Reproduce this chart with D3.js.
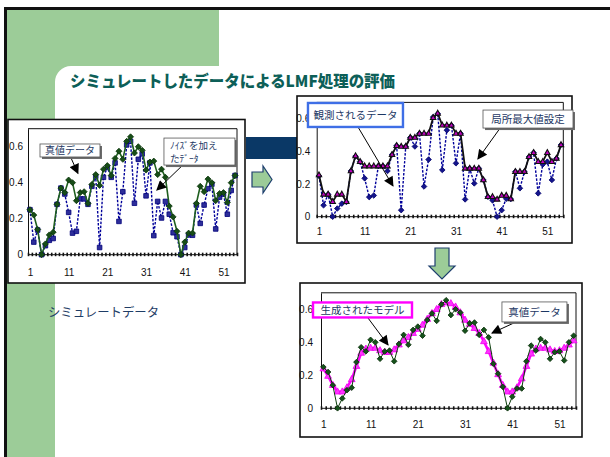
<!DOCTYPE html>
<html lang="ja">
<head>
<meta charset="utf-8">
<title>シミュレートしたデータによるLMF処理の評価</title>
<script src="https://cdn.jsdelivr.net/npm/d3@7"></script>
<style>
  html, body { margin: 0; padding: 0; background: #fff; }
  svg { display: block; }
</style>
</head>
<body>
<svg id="slide" width="610" height="457"></svg>
<script>
// sample index (category axis)
const categories = d3.range(1, 55);
const xTickLabels = [1, 11, 21, 31, 41, 51];
const yTickValues = [0, 0.2, 0.4, 0.6];

// 真値データ
const trueValues = [
  0.25, 0.22, 0.14, 0, 0.06, 0.11, 0.125, 0.28, 0.37, 0.345,
  0.415, 0.40, 0.30, 0.345, 0.35, 0.285, 0.39, 0.445, 0.385, 0.475,
  0.495, 0.44, 0.535, 0.575, 0.53, 0.63, 0.655, 0.565, 0.60, 0.58,
  0.47, 0.515, 0.52, 0.445, 0.475, 0.43, 0.27, 0.21, 0.13, 0,
  0.07, 0.12, 0.12, 0.285, 0.38, 0.35, 0.42, 0.40, 0.30, 0.34,
  0.345, 0.29, 0.40, 0.44
];
// ノイズを加えたデータ (= 観測されるデータ)
const noisyValues = [
  0.25, 0.07, 0.137, 0, 0.05, 0.08, 0.09, 0.28, 0.37, 0.337,
  0.235, 0.12, 0.13, 0.31, 0.31, 0.28, 0.38, 0.435, 0.04, 0.43,
  0.485, 0.43, 0.51, 0.185, 0.35, 0.61, 0.63, 0.286, 0.53, 0.56,
  0.327, 0.51, 0.106, 0.296, 0.204, 0.296, 0.225, 0.122, 0.10, 0,
  0.04, 0.11, 0.108, 0.276, 0.174, 0.276, 0.367, 0.392, 0.143, 0.32,
  0.337, 0.225, 0.357, 0.44
];
// 局所最大値設定
const localMaxValues = [
  0.255, 0.137, 0.137, 0.092, 0.137, 0.137, 0.092, 0.28, 0.372, 0.337,
  0.31, 0.31, 0.31, 0.31, 0.31, 0.31, 0.38, 0.435, 0.43, 0.43,
  0.485, 0.485, 0.51, 0.51, 0.51, 0.606, 0.633, 0.56, 0.56, 0.56,
  0.51, 0.51, 0.296, 0.296, 0.296, 0.296, 0.225, 0.122, 0.122, 0.106,
  0.13, 0.13, 0.108, 0.276, 0.276, 0.276, 0.367, 0.392, 0.337, 0.337,
  0.392, 0.337, 0.357, 0.44
];
// 生成されたモデル
const modelValues = [
  0.24, 0.195, 0.14, 0.10, 0.10, 0.125, 0.175, 0.255, 0.335, 0.36,
  0.365, 0.365, 0.35, 0.34, 0.34, 0.355, 0.385, 0.41, 0.43, 0.455,
  0.48, 0.505, 0.54, 0.575, 0.60, 0.63, 0.64, 0.635, 0.615, 0.58,
  0.535, 0.51, 0.485, 0.455, 0.405, 0.345, 0.275, 0.205, 0.14, 0.10,
  0.10, 0.125, 0.18, 0.255, 0.33, 0.36, 0.365, 0.365, 0.355, 0.345,
  0.35, 0.365, 0.385, 0.41
];

const JP = '"Noto Sans CJK JP", "Noto Sans", sans-serif';
const NUM = '"Liberation Sans", Arial, sans-serif';
const TEXT_NAVY = '#1c3763';
const GREEN = '#9ccc98';

const svg = d3.select('#slide');

// ---- slide decoration ----
svg.append('rect').attr('width', 610).attr('height', 457).attr('fill', '#fff');
svg.append('rect').attr('x', 7).attr('y', 9).attr('width', 212).attr('height', 80).attr('fill', GREEN);
svg.append('rect').attr('x', 7).attr('y', 9).attr('width', 48).attr('height', 448).attr('fill', GREEN);
svg.append('rect').attr('x', 55).attr('y', 66).attr('width', 620).attr('height', 440)
  .attr('rx', 16).attr('fill', '#fff');
svg.append('path').attr('d', 'M5.5,457V8.5H610')
  .attr('fill', 'none').attr('stroke', '#111').attr('stroke-width', 3);

svg.append('text')
  .attr('x', 70).attr('y', 87)
  .attr('font-family', JP).attr('font-weight', 900).attr('font-size', 16)
  .attr('fill', '#0d5f58')
  .attr('textLength', 325).attr('lengthAdjust', 'spacingAndGlyphs')
  .text('シミュレートしたデータによるLMF処理の評価');

svg.append('text')
  .attr('x', 48).attr('y', 317)
  .attr('font-family', JP).attr('font-size', 12.5).attr('fill', '#1f3d66')
  .attr('textLength', 111).attr('lengthAdjust', 'spacingAndGlyphs')
  .text('シミュレートデータ');

// connector band behind the upper-right chart
svg.append('rect').attr('x', 246).attr('y', 137).attr('width', 54).attr('height', 22).attr('fill', '#0a3866');

// block arrows
svg.append('path')
  .attr('d', 'M252,172H263V166L272,179.5L263,193V187H252Z')
  .attr('fill', GREEN).attr('stroke', '#1e3f6e').attr('stroke-width', 1.2);
svg.append('path')
  .attr('d', 'M435,248H449V266H455L442,279L429,266H435Z')
  .attr('fill', GREEN).attr('stroke', '#1e3f6e').attr('stroke-width', 1.2);

// arrowhead for callouts
svg.append('defs').append('marker')
  .attr('id', 'head').attr('viewBox', '0 0 10 10')
  .attr('refX', 9).attr('refY', 5)
  .attr('markerWidth', 11).attr('markerHeight', 10)
  .attr('markerUnits', 'userSpaceOnUse').attr('orient', 'auto')
  .append('path').attr('d', 'M0,0L10,5L0,10Z').attr('fill', '#000');

// ---- marker shapes ----
const shape = {
  diamond: r => `M0,${-r}L${r},0L0,${r}L${-r},0Z`,
  square: r => `M${-r},${-r}h${2 * r}v${2 * r}h${-2 * r}Z`,
  triangle: r => `M0,${-r * 1.15}L${r},${r * 0.65}L${-r},${r * 0.65}Z`
};

function makeChart(cfg) {
  const g = svg.append('g');
  const [bx, by, bw, bh] = cfg.box;
  g.append('rect').attr('x', bx).attr('y', by).attr('width', bw).attr('height', bh)
    .attr('fill', '#fff').attr('stroke', '#111').attr('stroke-width', 1.6);

  const p = cfg.plot;
  const x = d3.scaleLinear().domain([0.5, 54.5]).range([p.left, p.right]);
  const y = d3.scaleLinear().domain([0, 0.7]).range([p.bottom, p.top]);

  // plot frame (top and right)
  g.append('path')
    .attr('d', `M${p.left},${y(0.7)}H${p.right}V${p.bottom}`)
    .attr('fill', 'none').attr('stroke', '#111').attr('stroke-width', 1);

  // value axis
  const ya = g.append('g').attr('transform', `translate(${p.left},0)`)
    .call(d3.axisLeft(y).tickValues(yTickValues).tickSize(0).tickPadding(cfg.yPad)
      .tickFormat(d => d === 0 ? '0' : d3.format('.1f')(d)));
  ya.select('.domain').attr('stroke', '#111');
  ya.selectAll('text').attr('font-family', NUM).attr('font-size', 10).attr('fill', '#111');

  // category axis: tick mark at every category boundary
  const xa = g.append('g').attr('transform', `translate(0,${p.bottom})`)
    .call(d3.axisBottom(x).tickValues(d3.range(0.5, 55, 1)).tickSize(2).tickFormat(''));
  xa.select('.domain').attr('stroke', '#111').attr('d', `M${p.left},0H${p.right}`);
  xa.selectAll('.tick line').attr('y1', -2).attr('y2', 1.5).attr('stroke', '#111').attr('stroke-width', 1.6);

  const xl = g.append('g').attr('transform', `translate(0,${p.bottom})`)
    .call(d3.axisBottom(x).tickValues(xTickLabels).tickSize(0).tickPadding(cfg.xPad));
  xl.select('.domain').remove();
  xl.selectAll('text').attr('font-family', NUM).attr('font-size', 10).attr('fill', '#111');

  return { g, x, y };
}

function drawSeries(c, values, st) {
  const line = d3.line().x((d, i) => c.x(categories[i])).y(d => c.y(d));
  c.g.append('path').datum(values).attr('d', line)
    .attr('fill', 'none').attr('stroke', st.stroke).attr('stroke-width', st.width)
    .attr('stroke-dasharray', st.dash || null).attr('stroke-linejoin', 'round');
  c.g.append('g').selectAll('path').data(values).join('path')
    .attr('transform', (d, i) => `translate(${c.x(categories[i])},${c.y(d)})`)
    .attr('d', st.marker)
    .attr('fill', st.fill).attr('stroke', st.mstroke).attr('stroke-width', st.mwidth || 0.8);
}

function callout(c, cfg) {
  const cx = c.x(cfg.at[0]), cy = c.y(cfg.at[1]);
  const x0 = cx - cfg.w / 2, y0 = cy - cfg.h / 2;
  const fs = cfg.size || 10;
  // arrow first, box drawn over its tail
  c.g.append('line')
    .attr('x1', c.x(cfg.from[0])).attr('y1', c.y(cfg.from[1]))
    .attr('x2', c.x(cfg.to[0])).attr('y2', c.y(cfg.to[1]))
    .attr('stroke', '#000').attr('stroke-width', 1).attr('marker-end', 'url(#head)');
  if (cfg.border) {
    c.g.append('rect').attr('x', x0).attr('y', y0).attr('width', cfg.w).attr('height', cfg.h)
      .attr('fill', '#fff').attr('stroke', cfg.border).attr('stroke-width', 2.4);
  } else {
    c.g.append('rect').attr('x', x0 + 2).attr('y', y0 + 2).attr('width', cfg.w).attr('height', cfg.h)
      .attr('fill', '#6b6b6b');
    c.g.append('rect').attr('x', x0).attr('y', y0).attr('width', cfg.w).attr('height', cfg.h)
      .attr('fill', '#fff').attr('stroke', '#555').attr('stroke-width', 0.8);
  }
  const multi = cfg.lines.length > 1;
  cfg.lines.forEach((s, i) => {
    c.g.append('text')
      .attr('font-family', JP).attr('font-size', fs).attr('fill', TEXT_NAVY)
      .attr('text-anchor', multi ? 'start' : 'middle')
      .attr('x', multi ? x0 + 6 : cx)
      .attr('y', multi ? y0 + 10.5 + i * 13 : cy + fs * 0.36)
      .text(s);
  });
}

// styles
const greenTrue = { stroke: '#1f5f1f', width: 1.6, marker: shape.diamond(3), fill: '#174d17', mstroke: '#0a330a' };
const blueNoisy = { stroke: '#00009a', width: 1.4, dash: '2.5,1.5', marker: shape.square(2.3), fill: '#2e2e9a', mstroke: '#00007a' };
const blueObserved = { stroke: '#00009a', width: 1.4, dash: '2.5,1.5', marker: shape.diamond(2.8), fill: '#14148c', mstroke: '#00006a' };
const blackLocalMax = { stroke: '#111', width: 1.8, marker: shape.triangle(2.7), fill: '#c000c0', mstroke: '#111', mwidth: 1.1 };
const pinkModel = { stroke: '#ff00ff', width: 2.6, marker: shape.triangle(3.4), fill: '#ff33ff', mstroke: '#ee00ee' };
const greenTrueThin = { stroke: '#0b3d0b', width: 1, marker: shape.diamond(2.8), fill: '#14521a', mstroke: '#062a06' };

// ---- シミュレートデータ ----
const c1 = makeChart({
  box: [8, 119.5, 237, 163.5],
  plot: { left: 28, right: 237, top: 128.7, bottom: 254.7 },
  yPad: 5, xPad: 14.5
});
drawSeries(c1, noisyValues, blueNoisy);
drawSeries(c1, trueValues, greenTrue);
callout(c1, { at: [11.35, 0.579], w: 60, h: 13, from: [11.35, 0.55], to: [13.4, 0.452], lines: ['真値データ'] });
callout(c1, { at: [44.8, 0.573], w: 71, h: 27, from: [40.6, 0.50], to: [33.8, 0.359], lines: ['ﾉｲｽﾞを加え', 'たﾃﾞｰﾀ'], size: 9.5 });

// ---- 局所最大値設定 ----
const c2 = makeChart({
  box: [297, 96, 275, 147],
  plot: { left: 316.7, right: 563.3, top: 102.4, bottom: 216.7 },
  yPad: 6.5, xPad: 11.5
});
drawSeries(c2, noisyValues, blueObserved);
drawSeries(c2, localMaxValues, blackLocalMax);
callout(c2, { at: [8.99, 0.623], w: 95, h: 24, border: '#3f6fe6', from: [9.32, 0.56], to: [17.2, 0.188], lines: ['観測されるデータ'], size: 10.5 });
callout(c2, { at: [46.77, 0.598], w: 90, h: 18, from: [40.6, 0.54], to: [35.8, 0.353], lines: ['局所最大値設定'], size: 10.5 });

// ---- モデル生成 ----
const c3 = makeChart({
  box: [300, 283, 282, 154],
  plot: { left: 321, right: 576, top: 292.8, bottom: 408.3 },
  yPad: 8, xPad: 13
});
drawSeries(c3, modelValues, pinkModel);
drawSeries(c3, trueValues, greenTrueThin);
callout(c3, { at: [9.29, 0.596], w: 99, h: 15, border: '#ff00ff', from: [10.46, 0.547], to: [14.7, 0.384], lines: ['生成されたモデル'], size: 10.5 });
callout(c3, { at: [45.7, 0.584], w: 65, h: 20, from: [41.8, 0.523], to: [36.7, 0.456], lines: ['真値データ'], size: 10.5 });
</script>
</body>
</html>
